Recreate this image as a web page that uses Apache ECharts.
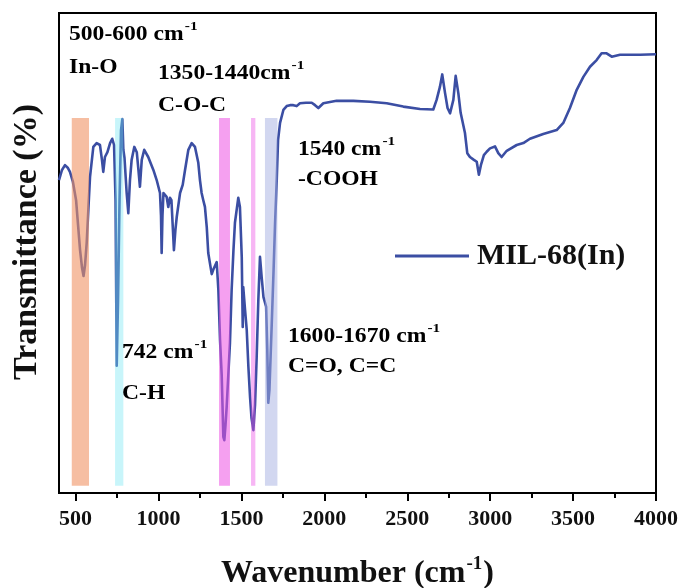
<!DOCTYPE html>
<html>
<head>
<meta charset="utf-8">
<script src="https://cdn.jsdelivr.net/npm/echarts@6/dist/echarts.min.js"></script>
<style>
  html, body { margin: 0; padding: 0; background: #fff; }
  #chart { width: 687px; height: 588px; }
</style>
</head>
<body>
<div id="chart"></div>
<script>
// FTIR spectrum of MIL-68(In): wavenumber (cm-1) vs. transmittance (arbitrary %)
const wavenumbers = [
  400, 418, 436, 454, 466, 484, 503, 515, 527, 539, 548, 557, 567, 577, 587, 607, 627, 647, 659, 667,
  677, 692, 708, 721, 732, 741, 748, 756, 765, 774, 782, 788, 795, 808, 818, 828, 838, 854, 869, 879,
  888, 899, 914, 938, 969, 989, 1009, 1015, 1019, 1024, 1030, 1049, 1059, 1069, 1078, 1087, 1093, 1102, 1110, 1130,
  1146, 1160, 1180, 1200, 1220, 1240, 1250, 1260, 1270, 1280, 1291, 1300, 1321, 1330, 1341, 1351, 1361, 1371, 1381, 1391,
  1397, 1404, 1411, 1431, 1441, 1452, 1461, 1481, 1491, 1502, 1508, 1511, 1522, 1532, 1542, 1552, 1561, 1572, 1582, 1592,
  1602, 1612, 1622, 1633, 1649, 1656, 1662, 1669, 1683, 1694, 1703, 1713, 1721, 1733, 1753, 1773, 1793, 1813, 1833, 1853,
  1889, 1924, 1944, 1964, 1994, 2074, 2175, 2275, 2376, 2476, 2577, 2657, 2677, 2697, 2711, 2728, 2743, 2758, 2778, 2792,
  2808, 2822, 2848, 2862, 2878, 2902, 2919, 2932, 2944, 2962, 2979, 2999, 3029, 3049, 3069, 3100, 3160, 3200, 3240, 3320,
  3401, 3441, 3481, 3522, 3562, 3602, 3642, 3672, 3702, 3733, 3783, 3843, 3904, 4000
];
const transmittance = [
  65.2, 67.3, 68.3, 67.7, 66.9, 64.8, 61.0, 55.8, 50.6, 46.9, 45.2, 47.5, 52.1, 59.0, 65.8, 72.1, 72.9, 72.5, 69.4, 66.9,
  70.0, 71.0, 72.9, 73.8, 72.5, 61.0, 26.5, 40.2, 61.0, 75.6, 77.9, 71.5, 69.8, 62.5, 58.3, 65.2, 69.4, 72.1, 71.0, 67.3,
  63.8, 69.4, 71.5, 70.0, 67.3, 65.2, 62.5, 57.9, 50.0, 57.9, 62.5, 61.7, 59.6, 61.5, 61.0, 54.8, 50.6, 54.8, 57.5, 62.5,
  64.2, 67.3, 71.5, 72.9, 72.1, 68.8, 65.2, 62.5, 61.0, 59.6, 55.4, 50.0, 45.6, 46.5, 46.5, 48.1, 42.3, 31.9, 24.6, 11.7,
  11.0, 14.2, 17.9, 31.3, 42.3, 50.6, 56.3, 61.5, 59.6, 49.2, 34.6, 42.9, 38.1, 34.0, 26.3, 20.0, 15.6, 13.1, 18.3, 28.3,
  40.2, 49.2, 45.0, 40.8, 38.8, 29.8, 18.8, 21.5, 35.4, 46.5, 56.3, 65.2, 73.5, 77.1, 79.8, 80.6, 80.8, 80.8, 80.6, 81.2,
  81.3, 81.3, 80.8, 80.2, 81.2, 81.7, 81.7, 81.5, 81.2, 80.5, 80.0, 79.9, 81.9, 84.6, 87.2, 83.3, 80.2, 79.1, 81.9, 86.9,
  83.3, 79.2, 75.0, 70.8, 70.0, 69.4, 69.0, 66.3, 68.3, 70.4, 71.1, 71.8, 72.2, 70.8, 70.0, 71.3, 72.5, 72.9, 73.8, 74.8,
  75.6, 77.1, 80.2, 84.0, 86.7, 88.8, 90.2, 91.6, 91.6, 90.9, 91.3, 91.3, 91.3, 91.4
];

// Highlighted absorption regions [from, to] in cm-1
const bandStart = [477, 738, 1365, 1558, 1642];
const bandEnd   = [581, 788, 1431, 1584, 1717];
const bandTop = 78.1;
const bandBottom = 1.5;
const bandColors = [
  'rgba(240,147,100,0.6)',
  'rgba(117,230,242,0.4)',
  'rgba(237,82,228,0.55)',
  'rgba(237,82,228,0.42)',
  'rgba(165,175,225,0.5)'
];

// Axis tick values
const majorTicks = [500, 1000, 1500, 2000, 2500, 3000, 3500, 4000];
const minorTicks = [750, 1250, 1750, 2250, 2750, 3250, 3750];

const seriesName = 'MIL-68(In)';

const serif = '"Liberation Serif", "Times New Roman", serif';
const lineColor = '#3B4EA3';

const spectrum = wavenumbers.map((w, i) => [w, transmittance[i]]);
const bands = bandStart.map((s, i) => [s, bandEnd[i], i]);

// Peak-assignment annotations (left edge x, vertical centre y)
const notes = [
  { x: 69,  y: 35,  text: '{a|500-600 cm}{s|-1}' },
  { x: 69,  y: 68,  text: '{a|In-O}' },
  { x: 158, y: 74,  text: '{a|1350-1440cm}{s|-1}' },
  { x: 158, y: 106, text: '{a|C-O-C}' },
  { x: 298, y: 150, text: '{a|1540 cm}{s|-1}' },
  { x: 298, y: 180, text: '{a|-COOH}' },
  { x: 122, y: 353, text: '{a|742 cm}{s|-1}' },
  { x: 122, y: 394, text: '{a|C-H}' },
  { x: 288, y: 337, text: '{a|1600-1670 cm}{s|-1}' },
  { x: 288, y: 367, text: '{a|C=O, C=C}' }
];

const noteRich = {
  a: { fontFamily: serif, fontWeight: 'bold', fontSize: 20, color: '#111', lineHeight: 20 },
  s: { fontFamily: serif, fontWeight: 'bold', fontSize: 13, color: '#111', lineHeight: 13, padding: [0, 0, 16, 1] }
};

const chart = echarts.init(document.getElementById('chart'), null, { renderer: 'canvas' });

const plotHeight = 588 - 13 - 95;

chart.setOption({
  animation: false,
  backgroundColor: '#fff',
  grid: {
    left: 59, right: 31, top: 13, bottom: 95,
    outerBoundsMode: 'none',
    containLabel: false,
    show: true, borderColor: '#000', borderWidth: 2, backgroundColor: 'transparent'
  },
  legend: {
    data: [{ name: seriesName, icon: 'rect' }],
    left: 390, top: 236,
    itemWidth: 74, itemHeight: 3,
    itemStyle: { color: lineColor },
    textStyle: { fontFamily: serif, fontWeight: 'bold', fontSize: 30, color: '#111', padding: [0, 0, 0, 3] }
  },
  xAxis: [
    {
      type: 'value', min: 400, max: 4000, position: 'bottom',
      name: '{a|Wavenumber (cm}{s|-1}{a|)}',
      nameLocation: 'middle', nameGap: 65,
      nameTextStyle: {
        rich: {
          a: { fontFamily: serif, fontWeight: 'bold', fontSize: 32, color: '#111', lineHeight: 32 },
          s: { fontFamily: serif, fontWeight: 'bold', fontSize: 19, color: '#111', lineHeight: 19, padding: [0, 1, 20, 1] }
        }
      },
      axisLine: { show: true, lineStyle: { color: '#000', width: 2 } },
      axisTick: { show: true, inside: false, length: 8, lineStyle: { color: '#000', width: 2 }, customValues: majorTicks },
      axisLabel: {
        show: true, margin: 15, customValues: majorTicks,
        formatter: v => String(v),
        fontFamily: serif, fontWeight: 'bold', fontSize: 22, color: '#111'
      },
      splitLine: { show: false }
    },
    {
      // minor ticks: a top axis shifted down onto the bottom edge, ticks pointing outward (down)
      type: 'value', min: 400, max: 4000, position: 'top', offset: -plotHeight,
      axisLine: { show: false },
      axisTick: { show: true, inside: true, length: 5, lineStyle: { color: '#000', width: 2 }, customValues: minorTicks },
      axisLabel: { show: false },
      splitLine: { show: false }
    }
  ],
  yAxis: {
    type: 'value', min: 0, max: 100,
    name: 'Transmittance (%)',
    nameLocation: 'middle', nameGap: 15,
    nameTextStyle: {
      fontFamily: serif, fontWeight: 'bold', fontSize: 34, color: '#111',
      padding: [0, 0, 0, 22]
    },
    axisLine: { show: true, lineStyle: { color: '#000', width: 2 } },
    axisTick: { show: false },
    axisLabel: { show: false },
    splitLine: { show: false }
  },
  series: [
    {
      name: seriesName,
      type: 'line',
      data: spectrum,
      symbol: 'none',
      showSymbol: false,
      smooth: false,
      z: 2,
      lineStyle: { color: lineColor, width: 2.6, join: 'round' },
      itemStyle: { color: lineColor }
    },
    {
      name: 'bands',
      type: 'custom',
      data: bands,
      z: 5,
      silent: true,
      encode: { x: [0, 1] },
      renderItem: function (params, api) {
        const p0 = api.coord([api.value(0), bandTop]);
        const p1 = api.coord([api.value(1), bandBottom]);
        return {
          type: 'rect',
          shape: { x: p0[0], y: p0[1], width: p1[0] - p0[0], height: p1[1] - p0[1] },
          style: { fill: bandColors[api.value(2)] }
        };
      }
    }
  ],
  graphic: notes.map(n => ({
    type: 'text',
    x: n.x, y: n.y,
    scaleX: 1.18,
    z: 10,
    style: {
      text: n.text,
      rich: noteRich,
      verticalAlign: 'middle',
      align: 'left'
    }
  }))
});
</script>
</body>
</html>
